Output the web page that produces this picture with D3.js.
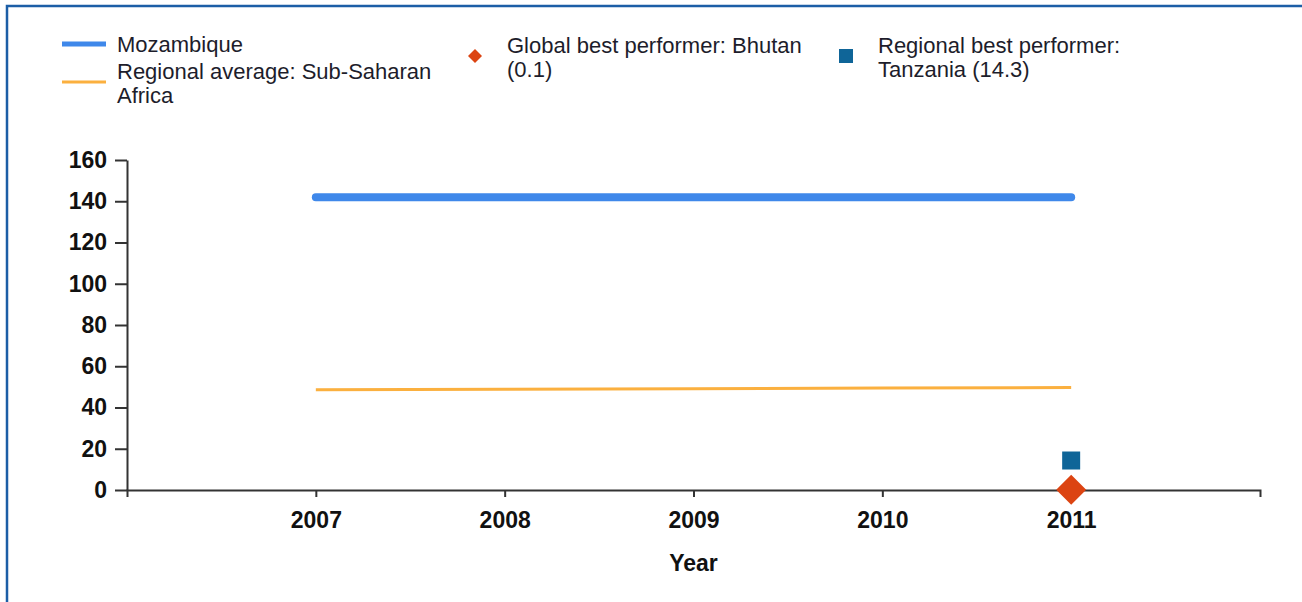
<!DOCTYPE html>
<html>
<head>
<meta charset="utf-8">
<script src="https://cdn.jsdelivr.net/npm/d3@7"></script>
<style>
  html, body { margin: 0; padding: 0; background: #fff; }
  svg { display: block; }
</style>
</head>
<body>
<svg id="chart" width="1302" height="602"></svg>
<script>
// Series data
const years = [2007, 2008, 2009, 2010, 2011];
const mozambique = [142, 142, 142, 142, 142];
const regionalAverage = [48.6, 48.8, 49.1, 49.4, 49.7];
const globalBest = [{ year: 2011, value: 0.1 }];
const regionalBest = [{ year: 2011, value: 14.3 }];
const yTicks = [0, 20, 40, 60, 80, 100, 120, 140, 160];

const legendItems = [
  { kind: "line", color: "#3f88ea", width: 5, lines: ["Mozambique"], x: 62, y: 44, textX: 117, baseline: 52 },
  { kind: "line", color: "#fbb03f", width: 3, lines: ["Regional average: Sub-Saharan", "Africa"], x: 62, y: 82, textX: 117, baseline: 79 },
  { kind: "diamond", color: "#dc4412", lines: ["Global best performer: Bhutan", "(0.1)"], x: 475, y: 56, textX: 507, baseline: 53 },
  { kind: "square", color: "#0f6598", lines: ["Regional best performer:", "Tanzania (14.3)"], x: 846, y: 56, textX: 878, baseline: 53 }
];

const svg = d3.select("#chart");

// Frame
svg.append("rect")
  .attr("x", 7).attr("y", 6).attr("width", 1400).attr("height", 700)
  .attr("fill", "none").attr("stroke", "#1c5ea6").attr("stroke-width", 2.5);

const plot = { left: 127, right: 1260, top: 160, bottom: 490 };

const x = d3.scaleLinear().domain([2006, 2012]).range([plot.left, plot.right]);
const y = d3.scaleLinear().domain([0, 160]).range([plot.bottom, plot.top]);

const tickFont = "'Liberation Sans', Arial, sans-serif";

// X axis
const xAxis = svg.append("g")
  .attr("transform", `translate(0,${plot.bottom})`)
  .call(d3.axisBottom(x).tickValues(years).tickFormat(d3.format("d")).tickSize(7).tickSizeOuter(7).tickPadding(15));

// Y axis
const yAxis = svg.append("g")
  .attr("transform", `translate(${plot.left},0)`)
  .call(d3.axisLeft(y).tickValues(yTicks).tickSize(12).tickSizeOuter(0).tickPadding(8));

[xAxis, yAxis].forEach(g => {
  g.selectAll("path.domain").attr("stroke", "#333").attr("stroke-width", 2);
  g.selectAll(".tick line").attr("stroke", "#333").attr("stroke-width", 2);
  g.selectAll(".tick text")
    .attr("fill", "#111")
    .style("font-family", tickFont)
    .style("font-weight", "bold")
    .style("font-size", "23px");
});

// Axis title
svg.append("text")
  .attr("x", x(2009)).attr("y", 571)
  .attr("text-anchor", "middle")
  .style("font-family", tickFont).style("font-weight", "bold").style("font-size", "23px")
  .attr("fill", "#111")
  .text("Year");

// Lines
const line = vals => d3.line().x((d, i) => x(years[i])).y(d => y(d))(vals);

svg.append("path")
  .attr("d", line(regionalAverage))
  .attr("fill", "none").attr("stroke", "#fbb03f").attr("stroke-width", 3);

svg.append("path")
  .attr("d", line(mozambique))
  .attr("fill", "none").attr("stroke", "#3f88ea").attr("stroke-width", 8)
  .attr("stroke-linecap", "round");

// Best performer markers
svg.selectAll("rect.regional-best")
  .data(regionalBest).enter().append("rect")
  .attr("class", "regional-best")
  .attr("x", d => x(d.year) - 9).attr("y", d => y(d.value) - 9)
  .attr("width", 18).attr("height", 18)
  .attr("fill", "#0f6598");

svg.selectAll("path.global-best")
  .data(globalBest).enter().append("path")
  .attr("class", "global-best")
  .attr("transform", d => `translate(${x(d.year)},${y(d.value)})`)
  .attr("d", "M0,-15L15,0L0,15L-15,0Z")
  .attr("fill", "#dc4412");

// Legend
const legendFont = "'Liberation Sans', Arial, sans-serif";
legendItems.forEach(item => {
  const g = svg.append("g");
  if (item.kind === "line") {
    g.append("line")
      .attr("x1", item.x).attr("x2", item.x + 44)
      .attr("y1", item.y).attr("y2", item.y)
      .attr("stroke", item.color).attr("stroke-width", item.width);
  } else if (item.kind === "diamond") {
    g.append("path")
      .attr("transform", `translate(${item.x},${item.y})`)
      .attr("d", "M0,-7L7,0L0,7L-7,0Z")
      .attr("fill", item.color);
  } else {
    g.append("rect")
      .attr("x", item.x - 7).attr("y", item.y - 7)
      .attr("width", 14).attr("height", 14)
      .attr("fill", item.color);
  }
  const t = g.append("text")
    .attr("x", item.textX).attr("y", item.baseline)
    .style("font-family", legendFont).style("font-size", "22px")
    .attr("fill", "#1d1d2b");
  item.lines.forEach((s, i) => {
    t.append("tspan").attr("x", item.textX).attr("dy", i === 0 ? 0 : 24).text(s);
  });
});
</script>
</body>
</html>
